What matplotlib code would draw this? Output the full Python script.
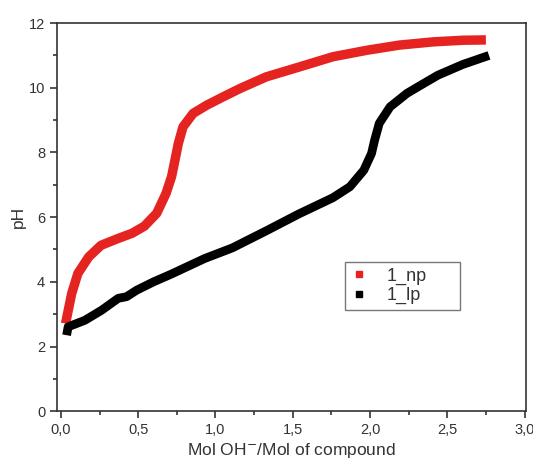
import matplotlib.pyplot as plt
from matplotlib.ticker import FuncFormatter, MultipleLocator

plt.rcParams['font.family'] = ['Liberation Sans', 'DejaVu Sans']

# titration curves, pH vs equivalents of base
np_x = [0.03, 0.07, 0.11, 0.18, 0.26, 0.37, 0.46, 0.54, 0.62, 0.68, 0.716, 0.738,
        0.76, 0.79, 0.856, 0.943, 1.05, 1.16, 1.33, 1.54, 1.76, 1.98, 2.19, 2.41,
        2.60, 2.75]
np_y = [2.71, 3.64, 4.26, 4.77, 5.13, 5.34, 5.50, 5.72, 6.12, 6.73, 7.25, 7.76,
        8.28, 8.79, 9.21, 9.46, 9.72, 9.98, 10.34, 10.64, 10.96, 11.16, 11.32, 11.42,
        11.47, 11.48]

lp_x = [0.037, 0.047, 0.155, 0.263, 0.371, 0.425, 0.49, 0.60, 0.715, 0.93, 1.11,
        1.33, 1.54, 1.76, 1.87, 1.96, 2.01, 2.03, 2.06, 2.13, 2.24, 2.35, 2.44,
        2.60, 2.77]
lp_y = [2.35, 2.61, 2.81, 3.12, 3.49, 3.54, 3.74, 4.00, 4.24, 4.72, 5.05,
        5.58, 6.10, 6.60, 6.94, 7.45, 7.97, 8.38, 8.90, 9.41, 9.83, 10.14, 10.39,
        10.72, 11.00]

fig = plt.figure(figsize=(5.33, 4.62), dpi=100)
ax = fig.add_axes([0.107, 0.110, 0.880, 0.840])

ax.plot(np_x, np_y, color='#e52421', lw=6.8, solid_capstyle='butt', solid_joinstyle='round')
ax.plot(lp_x, lp_y, color='black', lw=6.3, solid_capstyle='butt', solid_joinstyle='round')

# legend entries as small squares
h1, = ax.plot([], [], 's', color='#e52421', ms=5, label='1_np')
h2, = ax.plot([], [], 's', color='black', ms=5, label='1_lp')
leg = ax.legend(handles=[h1, h2], loc='upper left', bbox_to_anchor=(0.614, 0.0, 0.245, 0.384),
                mode='expand', fontsize=13, frameon=True, fancybox=False, handlelength=1.0,
                handletextpad=1.0, borderpad=0.3, labelspacing=0.12, borderaxespad=0)
leg.get_frame().set_edgecolor('#555555')
leg.get_frame().set_linewidth(1.0)
for t in leg.get_texts():
    t.set_color('#333333')

ax.set_xlim(-0.025, 3.01)
ax.set_ylim(0, 12)
ax.xaxis.set_major_locator(MultipleLocator(0.5))
ax.xaxis.set_minor_locator(MultipleLocator(0.25))
ax.yaxis.set_major_locator(MultipleLocator(2))
ax.yaxis.set_minor_locator(MultipleLocator(1))
ax.xaxis.set_major_formatter(FuncFormatter(lambda v, p: f"{v:.1f}".replace('.', ',')))
ax.yaxis.set_major_formatter(FuncFormatter(lambda v, p: f"{v:.0f}"))

ax.tick_params(which='major', direction='out', length=5, width=1.2, labelsize=10.5,
               colors='#333333', labelcolor='#333333')
ax.tick_params(which='minor', direction='out', length=3, width=1.2, colors='#333333')
for s in ax.spines.values():
    s.set_linewidth(1.2)
    s.set_color('#333333')

ax.set_xlabel('Mol OH$^{-}$/Mol of compound', fontsize=12.5, color='#333333', labelpad=3)
ax.set_ylabel('pH', fontsize=12.5, color='#333333', labelpad=2)

fig.savefig('out.png', dpi=100)
